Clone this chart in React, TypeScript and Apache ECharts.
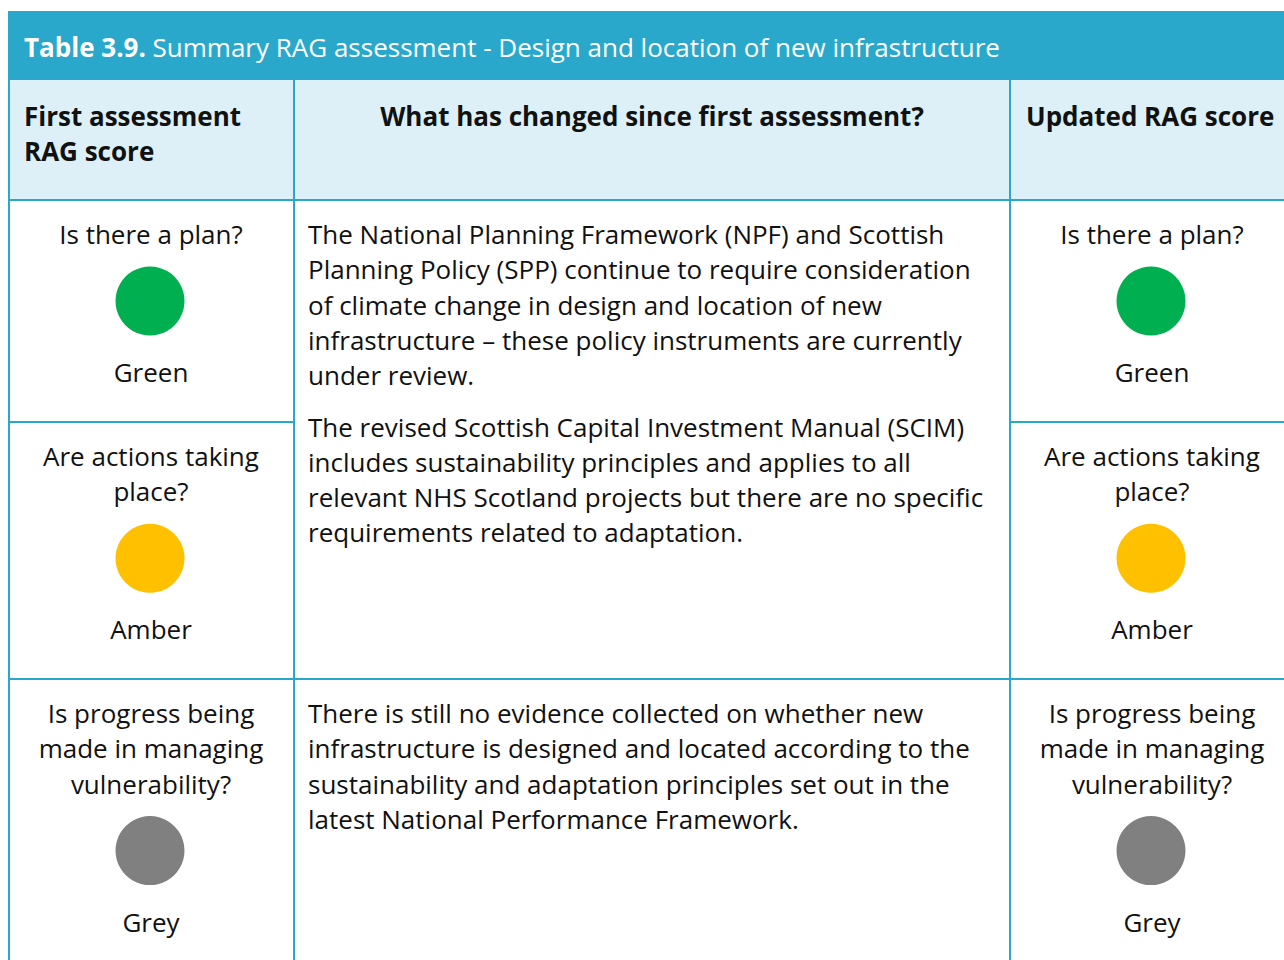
import React, { useEffect, useRef } from "react";
import * as echarts from "echarts";

const titleBold = "Table 3.9.";
const titleRest = " Summary RAG assessment - Design and location of new infrastructure";
const headerFirst = ["First assessment", "RAG score"];
const headerChange = ["What has changed since first assessment?"];
const headerUpdated = ["Updated RAG score"];
const questions = [
  ["Is there a plan?"],
  ["Are actions taking", "place?"],
  ["Is progress being", "made in managing", "vulnerability?"],
];
const firstScores = ["Green", "Amber", "Grey"];
const updatedScores = ["Green", "Amber", "Grey"];
const changeParagraphsTop = [
  [
    "The National Planning Framework (NPF) and Scottish",
    "Planning Policy (SPP) continue to require consideration",
    "of climate change in design and location of new",
    "infrastructure \u2013 these policy instruments are currently",
    "under review.",
  ],
  [
    "The revised Scottish Capital Investment Manual (SCIM)",
    "includes sustainability principles and applies to all",
    "relevant NHS Scotland projects but there are no specific",
    "requirements related to adaptation.",
  ],
];
const changeParagraphsBottom = [
  [
    "There is still no evidence collected on whether new",
    "infrastructure is designed and located according to the",
    "sustainability and adaptation principles set out in the",
    "latest National Performance Framework.",
  ],
];
const scoreColors: Record<string, string> = {
  Green: "#00B050",
  Amber: "#FFC000",
  Grey: "#808080",
};

const FONT = "'Open Sans', sans-serif";
const BLUE = "#2AA8CC";
const LIGHT = "#DDF0F8";

export default function App() {
  const ref = useRef<HTMLDivElement>(null);
  useEffect(() => {
    if (!ref.current) return;
    const chart = echarts.init(ref.current, undefined, { renderer: "svg" });
    const L = 8, R = 1300, TOP = 11, HB = 80, HR = 200, BOT = 980;
    const C1 = 294, C2 = 1010;
    const rowTops = [200, 422, 679];
    const LH = 35.3;
    const fs = 26;
    const els: any[] = [];
    els.push({ type: "rect", shape: { x: L, y: TOP, width: R - L, height: HB - TOP }, style: { fill: BLUE } });
    els.push({ type: "rect", shape: { x: L, y: HB, width: R - L, height: HR - HB }, style: { fill: LIGHT } });
    els.push({ type: "rect", shape: { x: L, y: HR, width: R - L, height: BOT - HR }, style: { fill: "#fff" } });
    els.push({
      type: "text",
      style: {
        x: 24, y: 47, text: `{b|${titleBold}}{r|${titleRest}}`,
        verticalAlign: "middle", textVerticalAlign: "middle",
        rich: {
          b: { fontFamily: FONT, fontSize: 26, fontWeight: "bold", fill: "#fff", color: "#fff" },
          r: { fontFamily: FONT, fontSize: 26, fill: "#fff", color: "#fff" },
        },
      },
    });
    const txt = (s: string, x: number, y: number, align: string, bold = false, size = fs) => ({
      type: "text",
      style: {
        x, y, text: s, fill: "#111", textAlign: align, align, verticalAlign: "middle", textVerticalAlign: "middle",
        font: `${bold ? "bold " : ""}${size}px ${FONT}`,
      },
    });
    headerFirst.forEach((s, i) => els.push(txt(s, 24, 116 + i * LH, "left", true)));
    headerChange.forEach((s, i) => els.push(txt(s, (C1 + C2) / 2, 116 + i * LH, "center", true)));
    headerUpdated.forEach((s, i) => els.push(txt(s, 1026, 116 + i * LH, "left", true)));

    const sideCell = (x: number, r: number, score: string) => {
      const qs = questions[r];
      const y = rowTops[r] + 34;
      qs.forEach((s, i) => els.push(txt(s, x, y + i * LH, "center")));
      const lastY = y + (qs.length - 1) * LH;
      const cy = lastY + 67;
      els.push({ type: "circle", shape: { cx: x - 1, cy, r: 34.5 }, style: { fill: scoreColors[score] } });
      els.push(txt(score, x, cy + 71, "center"));
    };
    for (let r = 0; r < 3; r++) {
      sideCell(151, r, firstScores[r]);
      sideCell(1152, r, updatedScores[r]);
    }
    const para = (paras: string[][], y0: number) => {
      let y = y0;
      paras.forEach((p) => {
        p.forEach((s) => {
          els.push(txt(s, 308, y, "left"));
          y += LH;
        });
        y += 16;
      });
    };
    para(changeParagraphsTop, 234);
    para(changeParagraphsBottom, 713);

    const line = (x1: number, y1: number, x2: number, y2: number) =>
      els.push({ type: "line", shape: { x1, y1, x2, y2 }, style: { stroke: BLUE, lineWidth: 2 } });
    line(L + 1, HB, L + 1, BOT);
    line(C1, HB, C1, BOT);
    line(C2, HB, C2, BOT);
    line(L, HR, R, HR);
    line(L, 422, C1, 422);
    line(C2, 422, R, 422);
    line(L, 679, R, 679);

    chart.setOption({ animation: false, graphic: { elements: els } });
    return () => chart.dispose();
  }, []);
  return <div ref={ref} style={{ position: "absolute", left: 0, top: 0, width: 1284, height: 960, background: "#fff" }} />;
}
